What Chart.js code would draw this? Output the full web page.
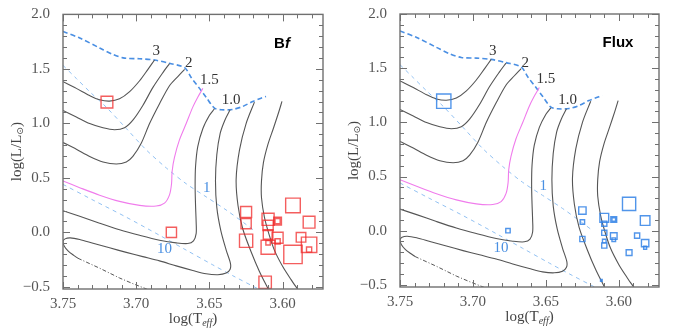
<!DOCTYPE html>
<html>
<head>
<meta charset="utf-8">
<script src="https://cdn.jsdelivr.net/npm/chart.js@4.4.1/dist/chart.umd.min.js"></script>
<style>
  html, body { margin: 0; padding: 0; background: #fff; }
  #wrap { position: relative; width: 692px; height: 335px; }
  canvas { position: absolute; top: 0; }
  #bf { left: 0; }
  #flux { left: 346px; }
</style>
</head>
<body>
<div id="wrap">
  <canvas id="bf" width="346" height="335"></canvas>
  <canvas id="flux" width="346" height="335"></canvas>
</div>
<script>
// axis ticks
const xTicks = [3.75, 3.70, 3.65, 3.60];
const yTicks = [-0.5, 0.0, 0.5, 1.0, 1.5, 2.0];

// stars: log Teff, log L, and marker amplitude for each panel
const starT = [3.720, 3.676, 3.625, 3.625, 3.625, 3.610, 3.610, 3.610, 3.610, 3.610, 3.6035, 3.6035, 3.6035, 3.6035, 3.593, 3.593, 3.5875, 3.582, 3.582, 3.582, 3.612];
const starL = [1.195, 0.000, 0.186, 0.080, -0.077, 0.119, 0.064, -0.020, -0.137, -0.096, 0.103, 0.103, -0.050, -0.083, 0.247, -0.203, -0.046, 0.093, -0.115, -0.158, -0.459];
const bfAmp = [10.7, 9.3, 10, 9.3, 12, 11, 9.3, 8.7, 12.7, 4, 7, 4.7, 10, 4.7, 13.3, 16.7, 8.7, 10.7, 14, 4.7, 11.3];
const fluxAmp = [13, 4, 6.7, 4, 4.7, 8, 4.7, 4.7, 4.7, 3.3, 5.3, 3.3, 6, 3.3, 12, 5.3, 4.7, 8.7, 6.7, 2.7, 1.5];

// evolutionary tracks (log Teff, log L)
const trk3T = [3.7500, 3.7409, 3.7318, 3.7250, 3.7182, 3.7114, 3.7045, 3.6977, 3.6920, 3.6875];
const trk3L = [1.382, 1.321, 1.255, 1.216, 1.204, 1.225, 1.291, 1.391, 1.496, 1.581];
const trk25T = [3.7500, 3.7409, 3.7318, 3.7227, 3.7148, 3.7080, 3.7023, 3.6955, 3.6886, 3.6818, 3.6773];
const trk25L = [1.119, 1.059, 0.998, 0.959, 0.941, 0.959, 1.029, 1.164, 1.330, 1.466, 1.548];
const trk2T = [3.7500, 3.7409, 3.7318, 3.7227, 3.7136, 3.7068, 3.7023, 3.6966, 3.6909, 3.6841, 3.6773, 3.6716, 3.6670];
const trk2L = [0.824, 0.763, 0.697, 0.646, 0.627, 0.646, 0.697, 0.817, 0.998, 1.180, 1.345, 1.430, 1.496];
const trk15T = [3.7500, 3.7386, 3.7250, 3.7114, 3.6977, 3.6864, 3.6807, 3.6773, 3.6759, 3.6755, 3.6739, 3.6705, 3.6659, 3.6614, 3.6580, 3.6545];
const trk15L = [0.471, 0.410, 0.341, 0.284, 0.247, 0.241, 0.268, 0.344, 0.446, 0.561, 0.688, 0.848, 0.998, 1.149, 1.240, 1.321];
const trk12T = [3.7500, 3.7386, 3.7250, 3.7114, 3.6977, 3.6841, 3.6727, 3.6648, 3.6609, 3.6591, 3.6591, 3.6595, 3.6598, 3.6595, 3.6580, 3.6545, 3.6500, 3.6466];
const trk12L = [0.199, 0.148, 0.084, 0.024, -0.027, -0.072, -0.097, -0.103, -0.078, -0.012, 0.094, 0.244, 0.425, 0.606, 0.787, 0.953, 1.074, 1.134];
const trk1T = [3.6359, 3.6395, 3.6427, 3.6450, 3.6459, 3.6450, 3.6423, 3.6386, 3.6357, 3.6359, 3.6386, 3.6443, 3.6523, 3.6614, 3.6727, 3.6841, 3.6955, 3.7068, 3.7182, 3.7295, 3.7386, 3.7450, 3.7486, 3.7500, 3.7491, 3.7464, 3.7427, 3.7398];
const trk1L = [1.125, 1.029, 0.908, 0.712, 0.471, 0.229, 0.018, -0.163, -0.284, -0.338, -0.374, -0.389, -0.380, -0.350, -0.308, -0.262, -0.223, -0.184, -0.142, -0.100, -0.066, -0.051, -0.060, -0.084, -0.127, -0.172, -0.211, -0.238];
const trk07T = [3.6193, 3.6250, 3.6295, 3.6318, 3.6305, 3.6273, 3.6216, 3.6159, 3.6095];
const trk07L = [1.195, 0.998, 0.757, 0.486, 0.244, 0.033, -0.178, -0.359, -0.531];
const trk05T = [3.6005, 3.6027, 3.6064, 3.6102, 3.6132, 3.6145, 3.6145, 3.6125, 3.6095, 3.6057, 3.6000, 3.5943, 3.5893];
const trk05L = [1.201, 1.104, 0.953, 0.802, 0.637, 0.471, 0.320, 0.139, -0.012, -0.163, -0.314, -0.434, -0.531];
const zamsT = [3.7398, 3.7250, 3.7114, 3.7023, 3.6909];
const zamsL = [-0.238, -0.329, -0.419, -0.471, -0.531];

// birthline and isochrones (1 and 10 Myr)
const birthT = [3.7500, 3.7386, 3.7250, 3.7159, 3.7080, 3.6977, 3.6875, 3.6773, 3.6670, 3.6625, 3.6568, 3.6523, 3.6466, 3.6420, 3.6341, 3.6273, 3.6205, 3.6148, 3.6114];
const birthL = [1.843, 1.783, 1.692, 1.632, 1.599, 1.593, 1.581, 1.551, 1.511, 1.421, 1.321, 1.240, 1.140, 1.125, 1.128, 1.155, 1.201, 1.231, 1.246];
const iso1T = [3.7500, 3.7409, 3.7318, 3.7205, 3.7068, 3.6932, 3.6795, 3.6659, 3.6523, 3.6386, 3.6250, 3.6182];
const iso1L = [1.532, 1.412, 1.291, 1.149, 0.953, 0.757, 0.591, 0.446, 0.326, 0.205, 0.072, 0.003];
const iso10T = [3.7500, 3.7295, 3.7068, 3.6841, 3.6659, 3.6477, 3.6341, 3.6159];
const iso10L = [0.440, 0.296, 0.139, -0.027, -0.163, -0.299, -0.398, -0.525];

// labels
const massText = ['3', '2', '1.5', '1.0'];
const massT = [3.6864, 3.6641, 3.6500, 3.6352];
const massL = [1.662, 1.551, 1.400, 1.210];
const ageText = ['1', '10'];
const ageT = [3.6518, 3.6807];
const ageL = [0.410, -0.157];

const SERIF = '"Liberation Serif", "DejaVu Serif", serif';
const SANS = '"Liberation Sans", Arial, sans-serif';
const MARK_SCALE = 1.1;

function pts(xs, ys) {
    return xs.map((v, i) => ({ x: v, y: ys[i] }));
}

function curve(xs, ys, color, width, dash, tension) {
    return {
        data: pts(xs, ys),
        showLine: true,
        borderColor: color,
        borderWidth: width,
        borderDash: dash || [],
        pointRadius: 0,
        tension: tension === undefined ? 0.3 : tension,
        fill: false
    };
}

function drawRun(ctx, parts, x, y) {
    // parts: [text, font, dy]; drawn left to right, centred on x
    let w = 0;
    parts.forEach(p => { ctx.font = p[1]; w += ctx.measureText(p[0]).width; });
    let cx = x - w / 2;
    parts.forEach(p => {
        ctx.font = p[1];
        ctx.fillText(p[0], cx, y + (p[2] || 0));
        cx += ctx.measureText(p[0]).width;
    });
}

const decor = {
    id: 'decor',
    afterDatasetsDraw(chart, args, opts) {
        const { ctx, chartArea: a, scales: { x, y } } = chart;
        ctx.save();

        // inward ticks on all four sides
        ctx.strokeStyle = '#707070';
        ctx.lineWidth = 1;
        ctx.beginPath();
        for (let i = 358; i <= 375; i++) {
            const px = Math.round(x.getPixelForValue(i / 100)) + 0.5;
            const len = i % 5 === 0 ? 7 : 4;
            ctx.moveTo(px, a.bottom); ctx.lineTo(px, a.bottom - len);
            ctx.moveTo(px, a.top); ctx.lineTo(px, a.top + len);
        }
        for (let i = -5; i <= 20; i++) {
            const py = Math.round(y.getPixelForValue(i / 10)) + 0.5;
            const len = i % 5 === 0 ? 7 : 4;
            ctx.moveTo(a.left, py); ctx.lineTo(a.left + len, py);
            ctx.moveTo(a.right, py); ctx.lineTo(a.right - len, py);
        }
        ctx.stroke();
        ctx.lineWidth = 1.4;
        ctx.strokeRect(a.left, a.top, a.width, a.height);

        // mass and age labels
        ctx.textAlign = 'left';
        ctx.textBaseline = 'middle';
        ctx.fillStyle = '#333';
        massText.forEach((t, i) => {
            drawRun(ctx, [[t, '15px ' + SERIF]], x.getPixelForValue(massT[i]), y.getPixelForValue(massL[i]));
        });
        ctx.fillStyle = '#4a90e2';
        ageText.forEach((t, i) => {
            drawRun(ctx, [[t, '15px ' + SERIF]], x.getPixelForValue(ageT[i]), y.getPixelForValue(ageL[i]));
        });

        // panel tag
        ctx.fillStyle = '#000';
        const tx = a.right - 41, ty = a.top + 29;
        if (opts.tag === 'Bf') {
            drawRun(ctx, [['B', 'bold 15px ' + SANS], ['f', 'italic bold 15px ' + SANS]], tx, ty);
        } else {
            drawRun(ctx, [[opts.tag, 'bold 15px ' + SANS]], tx, ty);
        }

        // axis titles
        ctx.fillStyle = '#444';
        drawRun(ctx, [['log(T', '15px ' + SERIF], ['eff', 'italic 10px ' + SERIF, 4], [')', '15px ' + SERIF]],
            (a.left + a.right) / 2, a.bottom + 30);
        ctx.translate(a.left - 46, (a.top + a.bottom) / 2);
        ctx.rotate(-Math.PI / 2);
        drawRun(ctx, [['log(L/L', '15px ' + SERIF], ['\u2299', '9px "DejaVu Sans", sans-serif', 4], [')', '15px ' + SERIF]], 0, 0);
        ctx.restore();
    }
};

function makePanel(id, amp, color, tag, pad, yWidth, xHeight) {
    const datasets = [
        {
            data: pts(starT, starL),
            pointStyle: 'rect',
            pointRadius: amp.map(v => v * MARK_SCALE / Math.SQRT2),
            borderColor: color,
            borderWidth: 1.4,
            backgroundColor: 'rgba(0,0,0,0)',
            showLine: false
        },
        curve(trk3T, trk3L, '#555', 1.1),
        curve(trk25T, trk25L, '#555', 1.1),
        curve(trk2T, trk2L, '#555', 1.1),
        curve(trk15T, trk15L, '#f07cec', 1.1),
        curve(trk12T, trk12L, '#555', 1.1),
        curve(trk1T, trk1L, '#555', 1.1),
        curve(trk07T, trk07L, '#555', 1.1),
        curve(trk05T, trk05L, '#555', 1.1),
        curve(zamsT, zamsL, '#444', 0.9, [4, 2, 1, 2], 0),
        curve(birthT, birthL, '#4a8fe3', 1.6, [5, 3]),
        curve(iso1T, iso1L, '#92c1f2', 1, [4, 4]),
        curve(iso10T, iso10L, '#92c1f2', 1, [4, 4])
    ];

    return new Chart(document.getElementById(id), {
        type: 'scatter',
        data: { datasets },
        options: {
            responsive: false,
            animation: false,
            events: [],
            layout: { padding: pad },
            plugins: {
                legend: { display: false },
                tooltip: { enabled: false },
                decor: { tag }
            },
            scales: {
                x: {
                    type: 'linear',
                    reverse: true,
                    min: 3.5725,
                    max: 3.75,
                    grid: { display: false },
                    border: { display: false },
                    afterBuildTicks: s => { s.ticks = xTicks.map(v => ({ value: v })); },
                    afterFit: s => { s.height = xHeight; },
                    ticks: {
                        color: '#555',
                        font: { family: SERIF, size: 15 },
                        padding: -2,
                        maxRotation: 0,
                        autoSkip: false,
                        callback: v => v.toFixed(2)
                    }
                },
                y: {
                    type: 'linear',
                    min: -0.52,
                    max: 2.0,
                    grid: { display: false },
                    border: { display: false },
                    afterBuildTicks: s => { s.ticks = yTicks.map(v => ({ value: v })); },
                    afterFit: s => { s.width = yWidth; },
                    ticks: {
                        color: '#555',
                        font: { family: SERIF, size: 15 },
                        padding: 5,
                        callback: v => (v < 0 ? '\u2212' : '') + Math.abs(v).toFixed(1)
                    }
                }
            }
        },
        plugins: [decor]
    });
}

makePanel('bf', bfAmp, 'rgba(240,40,40,0.75)', 'Bf', { left: 0, right: 23, top: 11, bottom: 0 }, 63, 46);
makePanel('flux', fluxAmp, 'rgba(50,130,230,0.85)', 'Flux', { left: 0, right: 33, top: 10, bottom: 0 }, 54, 48);
</script>
</body>
</html>
